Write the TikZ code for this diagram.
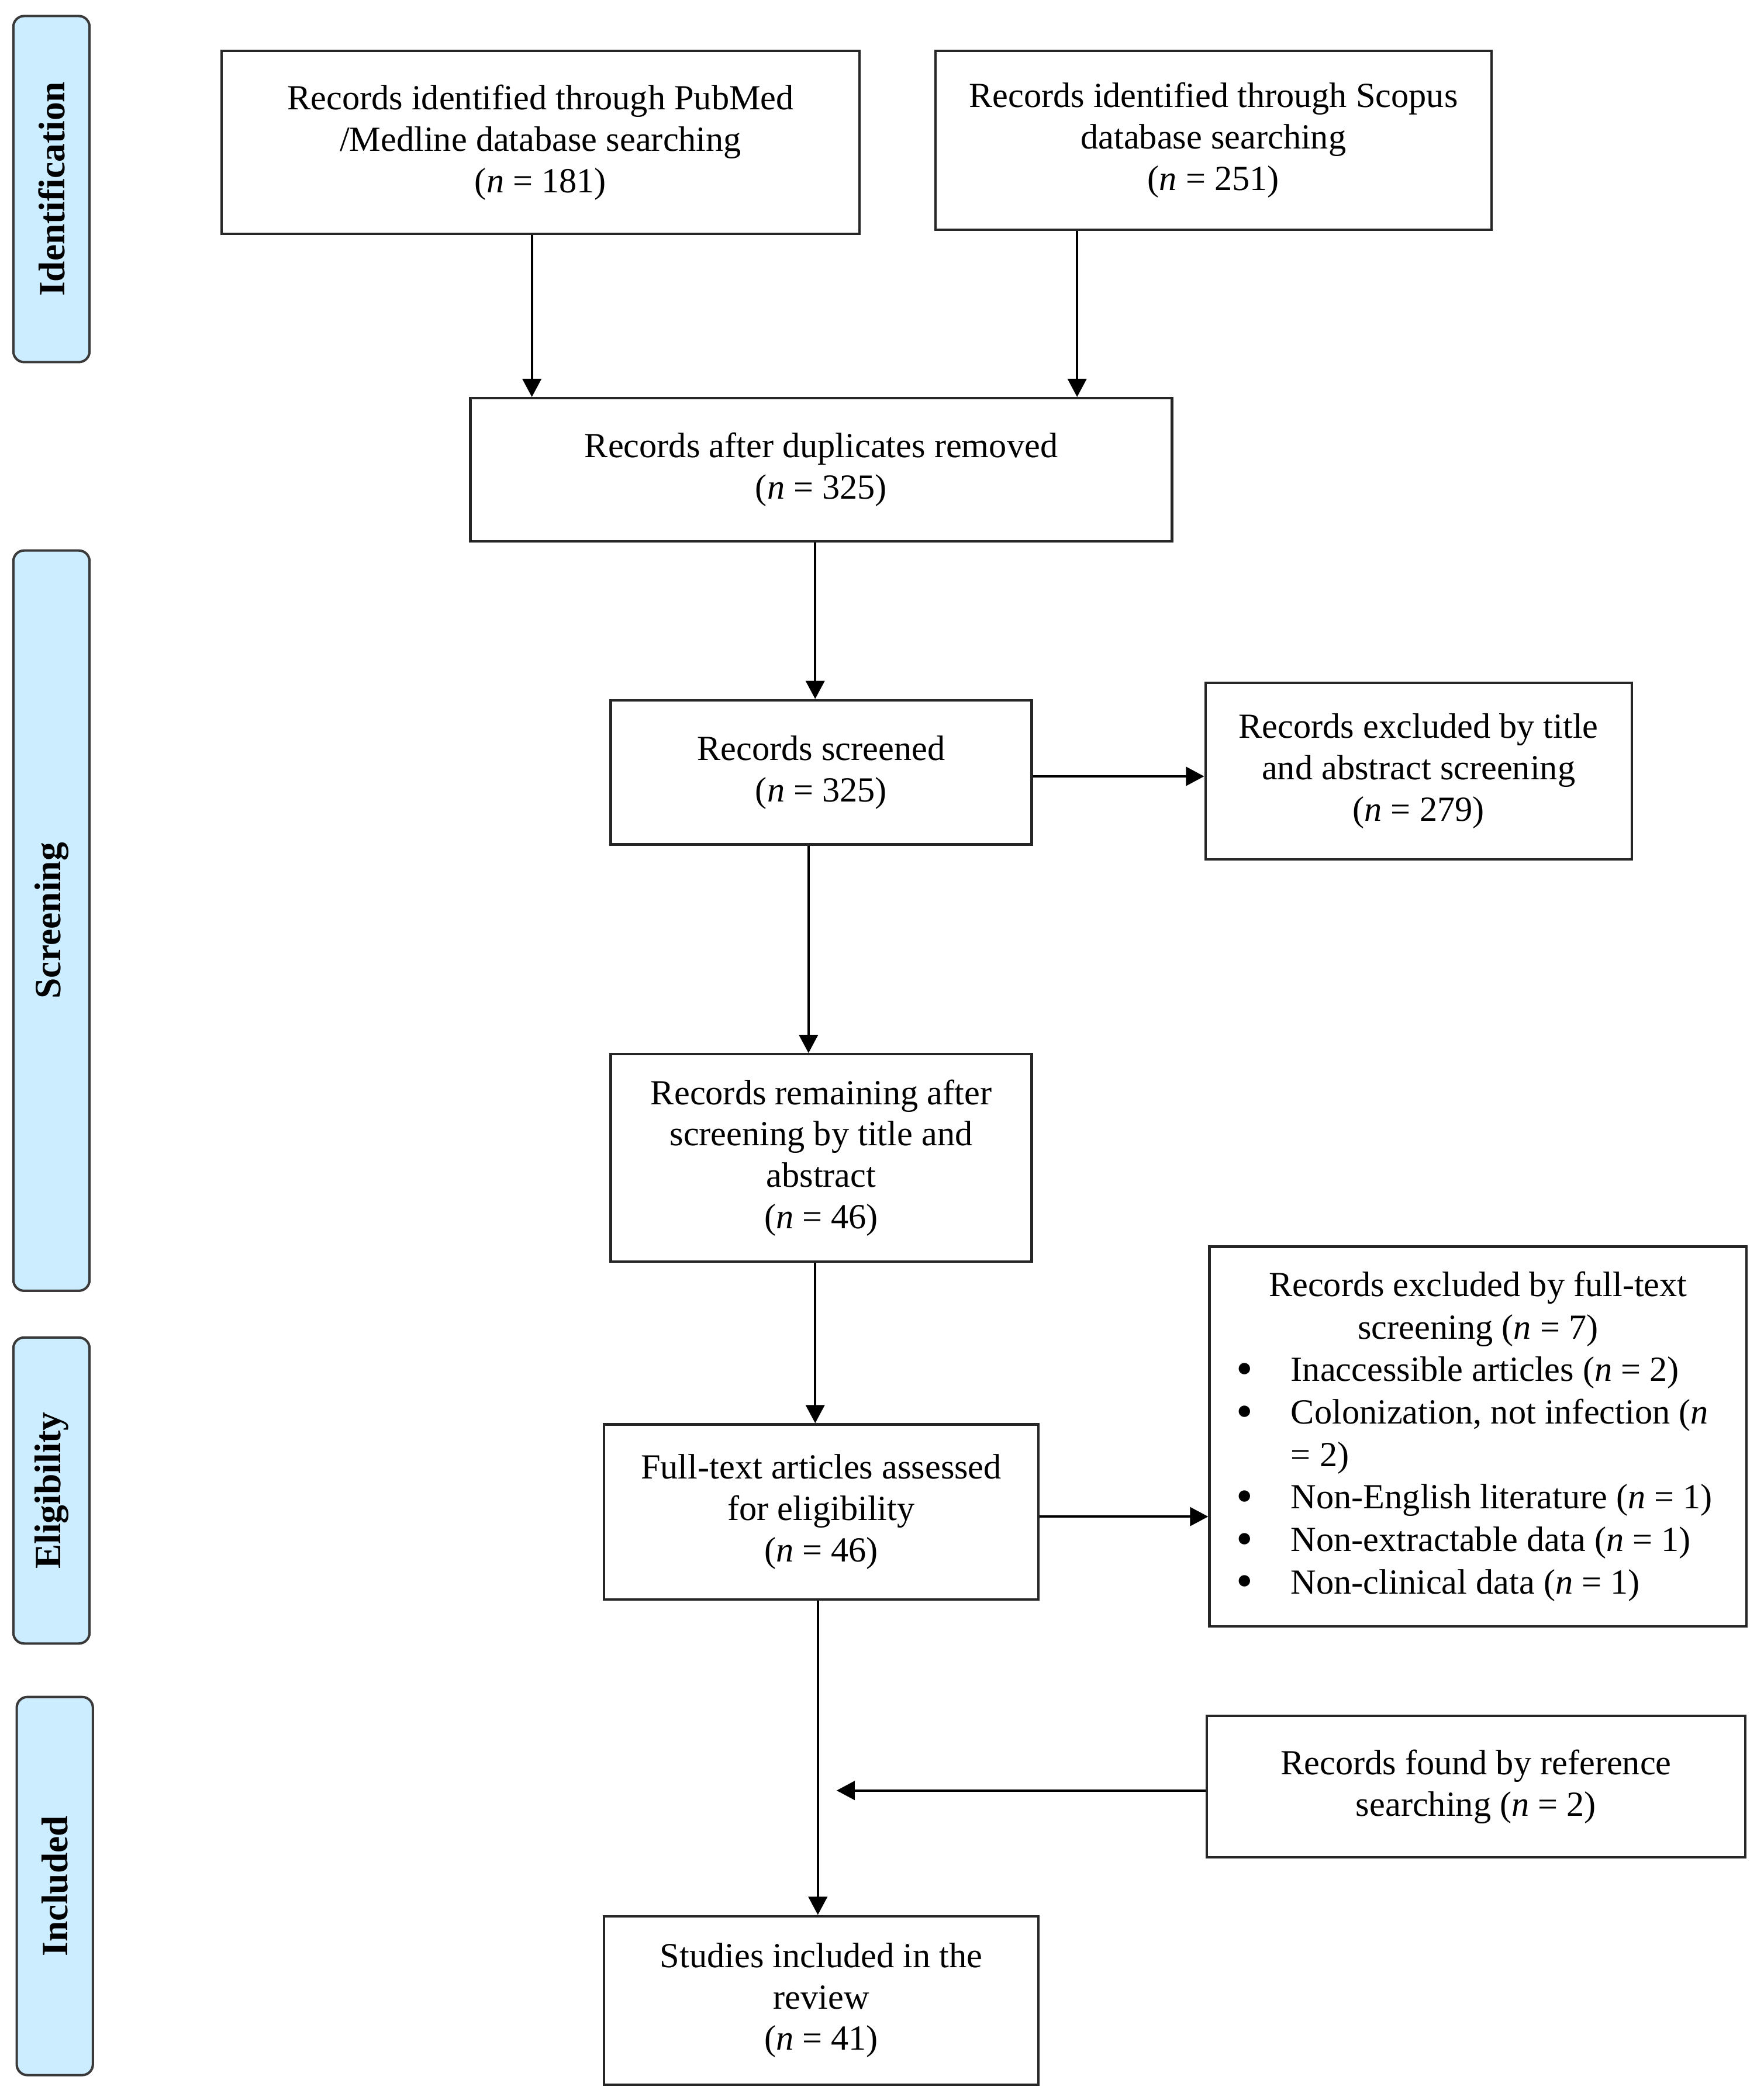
\documentclass[tikz,border=0pt]{standalone}
\usepackage{fontspec}
\setmainfont{Liberation Serif}
\usetikzlibrary{arrows.meta}
\definecolor{phasefill}{HTML}{CCECFF}
\definecolor{phasedraw}{HTML}{3A3A3A}
\newcommand{\bigbul}{\raisebox{-1.2pt}{\scalebox{1.35}{\textbullet}}}
\begin{document}
\begin{tikzpicture}[x=0.5pt,y=-0.5pt,
  every node/.style={font=\fontsize{13.2}{15.5}\selectfont},
  box/.style={draw=black!85, line width=0.9pt, inner sep=0pt, align=center},
  phase/.style={draw=phasedraw, fill=phasefill, line width=0.9pt, rounded corners=4pt,
     minimum width=28.5pt, inner sep=0pt},
  phaselabel/.style={rotate=90, font=\fontsize{13.9}{16}\selectfont\bfseries},
  arr/.style={line width=0.9pt, -{Triangle[length=6.8pt,width=7pt]}}]
\useasboundingbox (0,0) rectangle (1320,1569.4);
% phase boxes
\node[phase, minimum height=129.5pt] (ph1) at (38.5,141.5) {};
\node[phaselabel] (ph1t) at (ph1.center) {Identification};
\node[phase, minimum height=277pt] (ph2) at (38.5,689) {};
\node[phaselabel] (ph2t) at (ph2.center) {Screening};
\node[phase, minimum height=114.5pt] (ph3) at (38.5,1115.5) {};
\node[phaselabel] (ph3t) at (ph3.center) {Eligibility};
\node[phase, minimum height=141.5pt] (ph4) at (41,1411.5) {};
\node[phaselabel] (ph4t) at (ph4.center) {Included};
% main boxes
\node[box, minimum width=238.5pt, minimum height=68.5pt] (pub) at (404.5,106.5)
  {Records identified through PubMed\\/Medline database searching\\(\textit{n} = 181)};
\node[box, minimum width=208pt, minimum height=67pt] (sco) at (908,105)
  {Records identified through Scopus\\database searching\\(\textit{n} = 251)};
\node[box, minimum width=262.5pt, minimum height=53.5pt] (dup) at (614.5,351.5)
  {Records after duplicates removed\\(\textit{n} = 325)};
\node[box, minimum width=157.5pt, minimum height=54pt] (scr) at (614.5,578)
  {Records screened\\(\textit{n} = 325)};
\node[box, minimum width=159.5pt, minimum height=66pt] (ex1) at (1061.5,577)
  {Records excluded by title\\and abstract screening\\(\textit{n} = 279)};
\node[box, minimum width=157.5pt, minimum height=77.5pt] (rem) at (614.5,866.5)
  {Records remaining after\\screening by title and\\abstract\\(\textit{n} = 46)};
\node[box, minimum width=162.5pt, minimum height=65.5pt] (ful) at (614.5,1131.5)
  {Full-text articles assessed\\for eligibility\\(\textit{n} = 46)};
\node[box, minimum width=201pt, minimum height=142pt] (ex2) at (1106,1075)
  {\parbox{201pt}{\fontsize{13.2}{15.9}\selectfont\setlength{\parindent}{0pt}%
   {\centering Records excluded by full-text\\screening (\textit{n} = 7)\par}%
   \hspace*{10pt}\makebox[20.5pt][l]{\bigbul}Inaccessible articles (\textit{n} = 2)\\
   \hspace*{10pt}\makebox[20.5pt][l]{\bigbul}Colonization, not infection (\textit{n}\\
   \hspace*{30.5pt}= 2)\\
   \hspace*{10pt}\makebox[20.5pt][l]{\bigbul}Non-English literature (\textit{n} = 1)\\
   \hspace*{10pt}\makebox[20.5pt][l]{\bigbul}Non-extractable data (\textit{n} = 1)\\
   \hspace*{10pt}\makebox[20.5pt][l]{\bigbul}Non-clinical data (\textit{n} = 1)}};
\node[box, minimum width=201.5pt, minimum height=53pt] (ref) at (1104.5,1337)
  {Records found by reference\\searching (\textit{n} = 2)};
\node[box, minimum width=162.5pt, minimum height=63pt] (inc) at (614.5,1497)
  {Studies included in the\\review\\(\textit{n} = 41)};
% connector guides
\coordinate (xa) at (398,0);
\coordinate (xb) at (806,0);
\coordinate (xc) at (610,0);
\coordinate (xd) at (605,0);
\coordinate (xe) at (612,0);
\coordinate (ya) at (0,581);
\coordinate (yb) at (0,1135);
\coordinate (yc) at (0,1340);
\coordinate (reftip) at (626,1340);
% connectors
\draw[arr] (pub.south -| xa) -- (dup.north -| xa);
\draw[arr] (sco.south -| xb) -- (dup.north -| xb);
\draw[arr] (dup.south -| xc) -- (scr.north -| xc);
\draw[arr] (scr.east |- ya) -- (ex1.west |- ya);
\draw[arr] (scr.south -| xd) -- (rem.north -| xd);
\draw[arr] (rem.south -| xc) -- (ful.north -| xc);
\draw[arr] (ful.east |- yb) -- (ex2.west |- yb);
\draw[arr] (ful.south -| xe) -- (inc.north -| xe);
\draw[arr] (ref.west |- yc) -- (reftip);
\end{tikzpicture}
\end{document}
